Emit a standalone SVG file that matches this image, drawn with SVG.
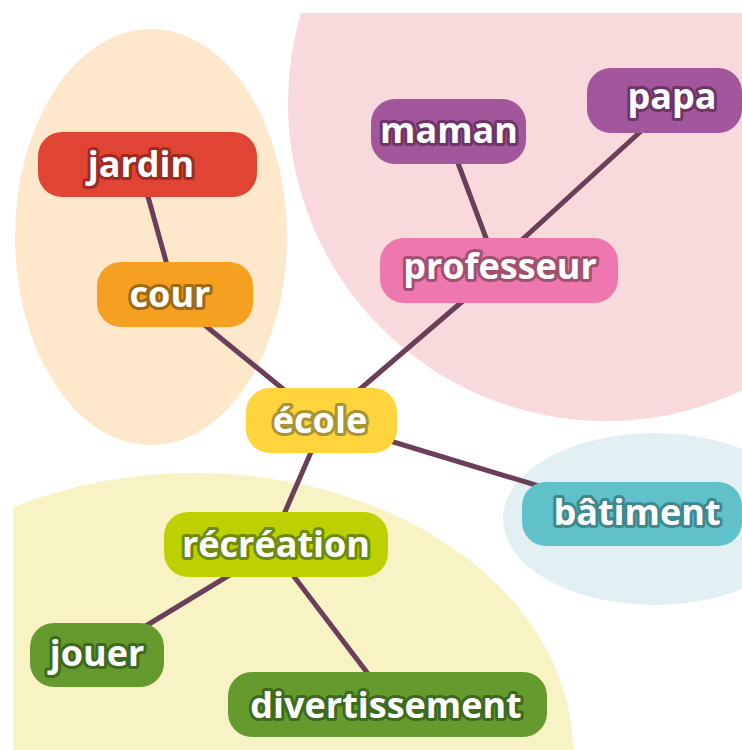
<svg xmlns="http://www.w3.org/2000/svg" width="742" height="750" viewBox="0 0 742 750">
  <defs>
    <clipPath id="bgclip"><rect x="13" y="13" width="729" height="737"/></clipPath>
  </defs>
  <style>
    .edge { stroke: #6B3F59; stroke-width: 5; stroke-linecap: round; fill: none; }
    .lbl { font-family: "Open Sans", "DejaVu Sans", sans-serif; font-weight: 700; font-size: 36px; fill: #ffffff; text-anchor: middle; paint-order: stroke fill; stroke-width: 6; stroke-linejoin: round; }
  </style>
  <rect width="742" height="750" fill="#ffffff"/>
  <g id="backgrounds" clip-path="url(#bgclip)">
    <ellipse cx="151" cy="237" rx="136" ry="208" fill="#FDE8CC"/>
    <circle cx="606" cy="103" r="318" fill="#F8D9DC"/>
    <ellipse cx="654" cy="519" rx="151" ry="86" fill="#E2F0F4"/>
    <ellipse cx="195" cy="752" rx="378" ry="279" fill="#F7F3C4"/>
  </g>
  <g id="connectors">
    <line class="edge" x1="142" y1="175" x2="174" y2="290"/>
    <line class="edge" x1="174" y1="300" x2="321" y2="420"/>
    <line class="edge" x1="324" y1="420" x2="499" y2="270"/>
    <line class="edge" x1="446" y1="131" x2="498" y2="270"/>
    <line class="edge" x1="489" y1="270" x2="675" y2="100"/>
    <line class="edge" x1="321" y1="420" x2="631" y2="514"/>
    <line class="edge" x1="325" y1="420" x2="271" y2="544"/>
    <line class="edge" x1="279" y1="545" x2="98" y2="655"/>
    <line class="edge" x1="270" y1="545" x2="391" y2="704"/>
  </g>
  <g id="node-jardin" class="node">
    <rect x="38" y="132" width="219" height="65" rx="24" fill="#E04434"/>
    <text class="lbl" x="141" y="177" stroke="#9E2A22">jardin</text>
  </g>
  <g id="node-cour" class="node">
    <rect x="97" y="262" width="156" height="65" rx="24" fill="#F5A020"/>
    <text class="lbl" x="170" y="307" stroke="#A06A14">cour</text>
  </g>
  <g id="node-ecole" class="node">
    <rect x="246" y="388" width="151" height="65" rx="24" fill="#FFD43C"/>
    <text class="lbl" x="320" y="433" stroke="#AA9332">école</text>
  </g>
  <g id="node-professeur" class="node">
    <rect x="380" y="238" width="238" height="65" rx="24" fill="#EE78AD"/>
    <text class="lbl" x="500" y="279" stroke="#A2506F">professeur</text>
  </g>
  <g id="node-maman" class="node">
    <rect x="371" y="99" width="155" height="65" rx="24" fill="#A2569C"/>
    <text class="lbl" x="449" y="143" stroke="#6E3468">maman</text>
  </g>
  <g id="node-papa" class="node">
    <rect x="587" y="68" width="155" height="65" rx="24" fill="#A2569C"/>
    <text class="lbl" x="672" y="109" stroke="#6E3468">papa</text>
  </g>
  <g id="node-batiment" class="node">
    <rect x="522" y="482" width="220" height="64" rx="24" fill="#60C1CA"/>
    <text class="lbl" x="637" y="525" stroke="#3E8890">bâtiment</text>
  </g>
  <g id="node-recreation" class="node">
    <rect x="164" y="512" width="224" height="65" rx="24" fill="#BDD000"/>
    <text class="lbl" x="276" y="557" stroke="#6E8A10">récréation</text>
  </g>
  <g id="node-jouer" class="node">
    <rect x="30" y="623" width="134" height="64" rx="24" fill="#659A2F"/>
    <text class="lbl" x="97" y="666" stroke="#3E6A1E">jouer</text>
  </g>
  <g id="node-divertissement" class="node">
    <rect x="228" y="672" width="319" height="65" rx="24" fill="#659A2F"/>
    <text class="lbl" x="386" y="718" stroke="#3E6A1E">divertissement</text>
  </g>
</svg>
